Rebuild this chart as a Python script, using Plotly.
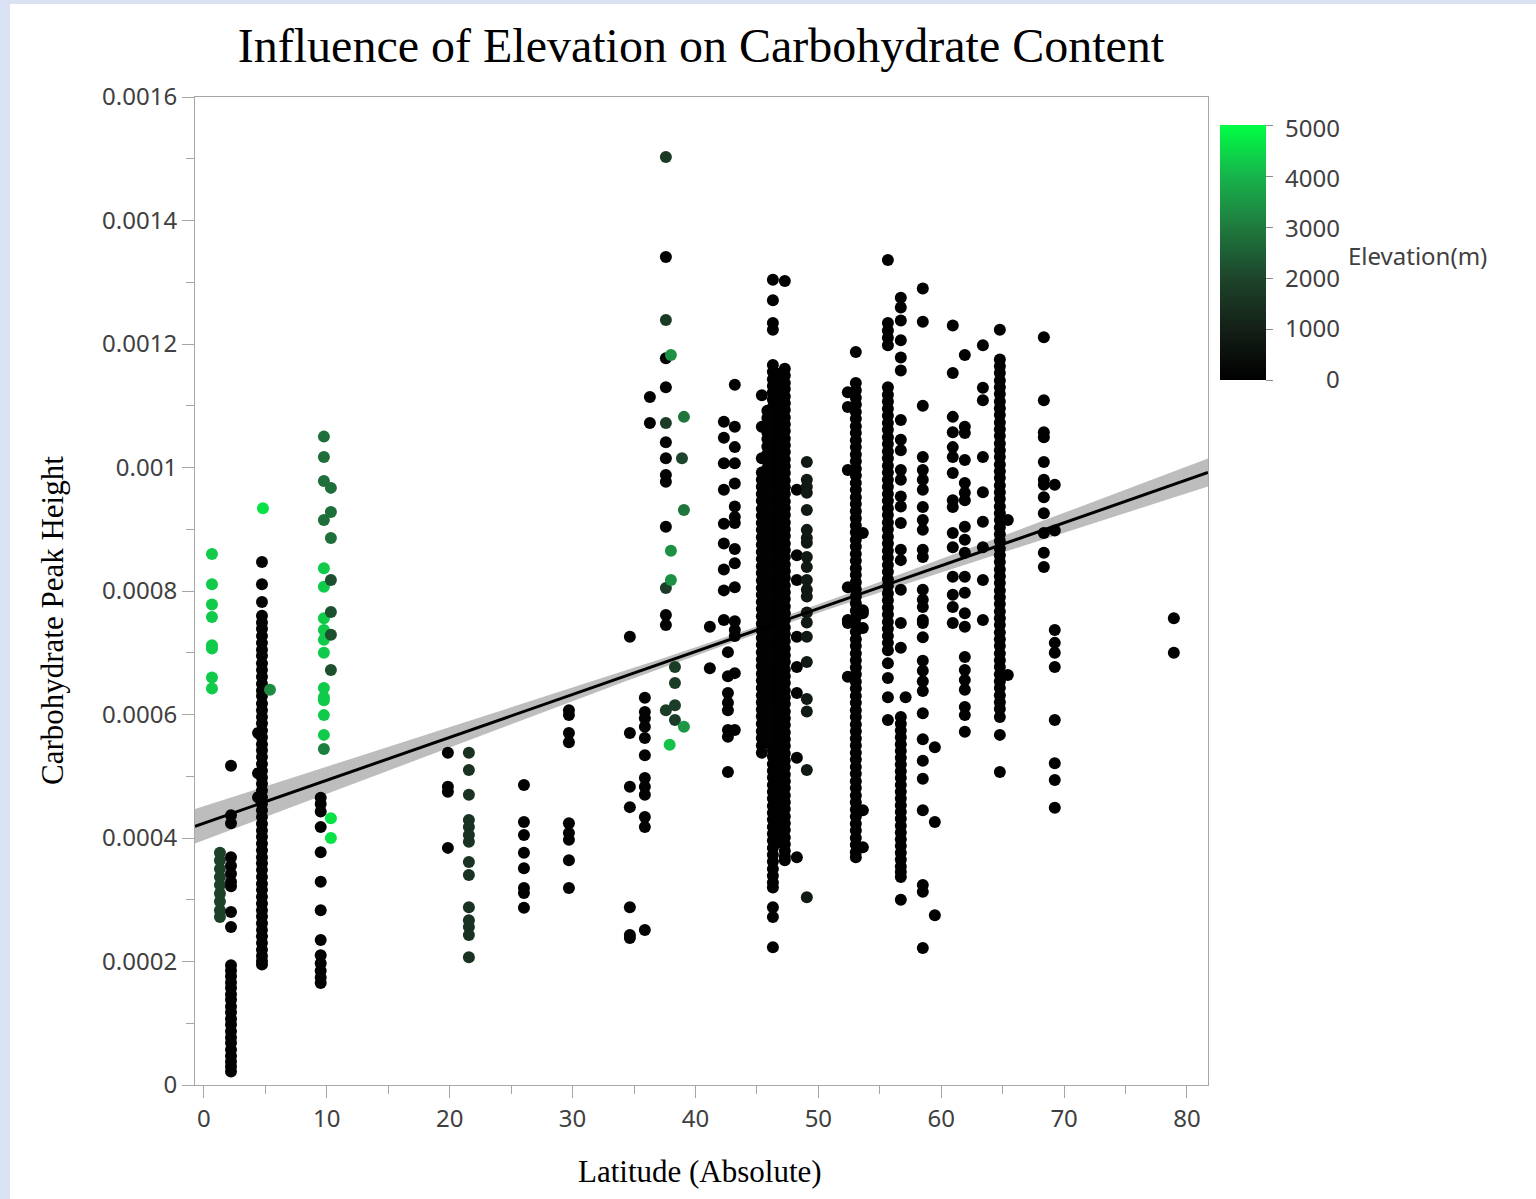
import plotly.graph_objects as go
import numpy as np

# ---------------- data (carbohydrate values in units of 1e-4) ----------------
group_lat = [
    0.65, 1.3, 2.2, 4.72, 4.4, 4.8, 5.37,
    9.76, 10.33, 9.76, 10.33, 9.76, 10.33, 9.5,
    19.85, 21.56, 26.04, 29.7, 34.66, 35.88,
    36.29, 37.59, 37.59, 37.59, 38.33, 37.59, 38.0, 39.06, 38.9, 39.06, 37.9,
    41.17, 42.31, 43.2, 42.64,
    45.4, 46.3, 47.27, 48.25, 49.06,
    53.05, 52.4, 53.62,
    55.66, 56.71, 57.1, 58.5, 59.48, 60.94, 61.92, 63.39,
    64.77, 65.42, 68.35, 69.24, 78.93,
    45.85, 46.8,
]
group_elev = [
    4300, 1900, 60, 90, 90, 4600, 3300,
    2800, 2800, 4300, 2200, 3100, 4600, 80,
    50, 1500, 50, 50, 50, 100,
    60, 1700, 80, 1800, 1800, 1800, 3400, 2900, 2000, 3500, 4200,
    50, 50, 50, 50,
    50, 40, 40, 60, 800,
    40, 40, 40,
    40, 40, 40, 40, 40, 40, 40, 40,
    40, 40, 40, 40, 40,
    50, 40,
]
group_carb = [
    [8.60, 8.11, 7.78, 7.58, 7.12, 7.07, 6.60, 6.42],
    [3.76, 3.64, 3.50, 3.37, 3.24, 3.10, 2.97, 2.83, 2.72],
    [5.17, 4.37, 4.24, 3.69, 3.55, 3.42, 3.29, 3.22, 2.80, 2.56, 1.94, 1.85, 1.76, 1.66,
     1.57, 1.47, 1.38, 1.27, 1.18, 1.07, 0.98, 0.87, 0.77, 0.68, 0.57, 0.47, 0.38, 0.30, 0.22],
    [8.47, 8.11, 7.82, 7.60, 7.49, 7.39, 7.27, 7.16, 7.05, 6.95, 6.83, 6.72, 6.61, 6.50,
     6.39, 6.30, 6.18, 6.07, 5.96, 5.86, 5.74, 5.63, 5.52, 5.42, 5.31, 5.20, 5.09, 4.98,
     4.88, 4.77, 4.66, 4.55, 4.45, 4.34, 4.23, 4.12, 4.02, 3.91, 3.80, 3.69, 3.59, 3.48,
     3.37, 3.26, 3.16, 3.05, 2.94, 2.83, 2.73, 2.62, 2.51, 2.41, 2.30, 2.19, 2.09, 2.01, 1.95],
    [5.70, 5.05, 4.66],
    [9.34],
    [6.40],
    [10.50, 10.17, 9.78, 9.15],
    [9.67, 9.28, 8.86],
    [8.37, 8.07, 7.56, 7.37, 7.21, 7.00, 6.43, 6.28, 6.23, 5.99, 5.67],
    [8.18, 7.66, 7.29, 6.72],
    [5.44],
    [4.32, 4.00],
    [4.65, 4.55, 4.43, 4.18, 3.77, 3.29, 2.83, 2.35, 2.10, 1.97, 1.85, 1.74, 1.65],
    [5.38, 4.83, 4.75, 3.84],
    [5.38, 5.10, 4.70, 4.29, 4.18, 4.05, 3.94, 3.61, 3.40, 2.88, 2.67, 2.56, 2.43, 2.07],
    [4.86, 4.26, 4.05, 3.76, 3.51, 3.19, 3.11, 2.87],
    [6.07, 5.99, 5.70, 5.55, 4.24, 4.08, 3.97, 3.64, 3.19],
    [7.26, 5.70, 4.83, 4.50, 2.88, 2.43, 2.38],
    [6.27, 6.04, 5.94, 5.80, 5.62, 5.34, 4.97, 4.83, 4.70, 4.34, 4.18, 2.51],
    [11.14, 10.72],
    [15.03, 12.39],
    [13.41, 11.77, 11.30, 10.41, 10.15, 9.88, 9.77, 9.04, 7.61, 7.45],
    [10.72, 8.05, 6.07],
    [6.77, 6.51, 6.15, 5.91],
    [],
    [11.82, 8.65, 8.18],
    [10.82, 9.31],
    [10.15],
    [5.80],
    [5.51],
    [7.42, 6.75],
    [10.74, 10.48, 10.07, 9.64, 9.09, 8.77, 8.35, 8.01, 7.53],
    [11.34, 10.66, 10.33, 10.07, 9.74, 9.37, 9.20, 9.10, 8.68, 8.45, 8.06, 7.51, 7.37, 7.27, 6.67, 5.75],
    [7.01, 6.62, 6.35, 6.19, 6.07, 5.75, 5.64, 5.07],
    [11.17, 10.66, 10.15, 9.92, 9.80, 9.69, 9.57, 9.46, 9.33, 9.22, 9.10, 8.99, 8.87, 8.75,
     8.63, 8.52, 8.40, 8.29, 8.17, 8.05, 7.94, 7.82, 7.71, 7.59, 7.47, 7.36, 7.24, 7.13,
     7.01, 6.89, 6.78, 6.66, 6.55, 6.43, 6.31, 6.20, 6.08, 5.97, 5.85, 5.73, 5.62, 5.50, 5.38],
    [13.04, 12.71, 12.34, 12.23, 11.66, 11.55, 11.43, 11.32, 11.22, 11.10, 10.98, 10.87,
     10.77, 10.64, 10.53, 10.42, 10.31, 10.19, 10.08, 9.96, 9.85, 9.74, 9.63, 9.51, 9.40,
     9.28, 9.17, 9.06, 8.94, 8.83, 8.72, 8.61, 8.49, 8.38, 8.26, 8.15, 8.04, 7.92, 7.81,
     7.70, 7.58, 7.47, 7.36, 7.25, 7.13, 7.02, 6.90, 6.79, 6.68, 6.56, 6.45, 6.34, 6.22,
     6.11, 6.00, 5.88, 5.77, 5.66, 5.54, 5.43, 5.32, 5.20, 5.09, 4.98, 4.86, 4.75, 4.64,
     4.52, 4.41, 4.30, 4.18, 4.07, 3.96, 3.84, 3.73, 3.62, 3.50, 3.39, 3.28, 3.20, 2.88, 2.72, 2.23],
    [13.02, 11.60, 11.49, 11.37, 11.27, 11.15, 11.04, 10.93, 10.81, 10.70, 10.59, 10.47,
     10.36, 10.25, 10.13, 10.02, 9.91, 9.79, 9.68, 9.57, 9.45, 9.34, 9.23, 9.11, 9.00,
     8.89, 8.77, 8.66, 8.55, 8.43, 8.32, 8.21, 8.09, 7.98, 7.87, 7.75, 7.64, 7.53, 7.41,
     7.30, 7.19, 7.07, 6.96, 6.85, 6.73, 6.62, 6.51, 6.39, 6.28, 6.17, 6.05, 5.94, 5.83,
     5.71, 5.60, 5.49, 5.37, 5.26, 5.15, 5.03, 4.92, 4.81, 4.69, 4.58, 4.47, 4.35, 4.24,
     4.13, 4.01, 3.90, 3.79, 3.70, 3.64],
    [9.64, 8.58, 8.18, 7.26, 6.77, 6.35, 5.30, 3.69],
    [10.09, 9.80, 9.69, 9.59, 9.31, 8.99, 8.86, 8.78, 8.55, 8.39, 8.18, 8.02, 7.91, 7.65,
     7.49, 7.26, 6.85, 6.25, 6.05, 5.10, 3.04],
    [11.87, 11.37, 11.25, 11.13, 11.02, 10.90, 10.79, 10.67, 10.56, 10.44, 10.33, 10.21,
     10.10, 9.98, 9.87, 9.75, 9.64, 9.52, 9.41, 9.29, 9.18, 9.06, 8.95, 8.83, 8.72, 8.60,
     8.49, 8.37, 8.26, 8.14, 8.03, 7.91, 7.80, 7.68, 7.57, 7.45, 7.34, 7.22, 7.11, 6.99,
     6.88, 6.76, 6.65, 6.53, 6.42, 6.30, 6.19, 6.07, 5.96, 5.84, 5.73, 5.61, 5.50, 5.38,
     5.27, 5.15, 5.04, 4.92, 4.81, 4.69, 4.58, 4.46, 4.35, 4.23, 4.12, 4.00, 3.89, 3.77, 3.69],
    [11.22, 10.98, 9.96, 8.06, 7.53, 7.48, 6.61],
    [8.94, 7.69, 7.40, 7.64, 4.45, 3.85],
    [13.36, 12.34, 12.22, 12.10, 11.98, 11.30, 11.18, 11.07, 10.95, 10.84, 10.72, 10.61,
     10.49, 10.38, 10.26, 10.15, 10.03, 9.92, 9.80, 9.69, 9.57, 9.46, 9.34, 9.23, 9.11,
     9.00, 8.88, 8.77, 8.65, 8.54, 8.42, 8.31, 8.19, 8.08, 7.96, 7.85, 7.73, 7.62, 7.50,
     7.39, 7.27, 7.16, 7.04, 6.83, 6.59, 6.28, 5.91],
    [12.75, 12.59, 12.38, 12.06, 11.78, 11.57, 10.77, 10.45, 10.28, 9.96, 9.80, 9.53, 9.37,
     9.10, 8.67, 8.50, 8.02, 7.48, 7.08, 5.96, 5.85, 5.74, 5.63, 5.52, 5.41, 5.30, 5.19,
     5.08, 4.97, 4.86, 4.75, 4.64, 4.53, 4.42, 4.31, 4.20, 4.09, 3.98, 3.87, 3.76, 3.65,
     3.54, 3.45, 3.37, 3.00],
    [6.28],
    [12.90, 12.36, 11.00, 10.17, 9.96, 9.80, 9.64, 9.36, 9.15, 8.99, 8.67, 8.55, 8.02, 7.86,
     7.74, 7.53, 7.48, 7.25, 6.87, 6.71, 6.54, 6.38, 6.02, 5.60, 5.25, 4.96, 4.45, 3.24, 3.13, 2.22],
    [5.47, 4.26, 2.75],
    [12.30, 11.53, 10.82, 10.57, 10.33, 10.17, 9.91, 9.47, 9.36, 8.94, 8.71, 8.23, 7.94, 7.74, 7.48],
    [11.82, 10.66, 10.56, 10.12, 9.75, 9.59, 9.47, 9.04, 8.83, 8.62, 8.23, 7.97, 7.64, 7.42,
     6.93, 6.72, 6.56, 6.40, 6.12, 5.99, 5.72],
    [11.98, 11.29, 11.09, 10.17, 9.60, 9.12, 8.71, 8.18, 7.53],
    [12.23, 11.75, 11.64, 11.53, 11.41, 11.30, 11.19, 11.07, 10.96, 10.85, 10.73, 10.62,
     10.51, 10.39, 10.28, 10.17, 10.05, 9.94, 9.83, 9.71, 9.60, 9.49, 9.37, 9.26, 9.15,
     9.03, 8.92, 8.81, 8.69, 8.58, 8.47, 8.35, 8.24, 8.13, 8.01, 7.90, 7.79, 7.67, 7.56,
     7.45, 7.33, 7.22, 7.11, 6.99, 6.88, 6.77, 6.65, 6.54, 6.43, 6.31, 6.20, 6.09, 5.96, 5.67, 5.07],
    [9.15, 6.64],
    [12.11, 11.09, 10.57, 10.49, 10.09, 9.80, 9.72, 9.52, 9.26, 8.94, 8.62, 8.39],
    [9.72, 8.98, 7.37, 7.16, 7.00, 6.77, 5.91, 5.21, 4.94, 4.49],
    [7.56, 7.00],
    [10.92, 10.80, 10.69, 10.57, 10.46, 10.34, 10.22, 10.11, 9.99, 9.87, 9.75, 9.64, 9.52,
     9.40, 9.29, 9.17, 9.05, 8.94, 8.82, 8.70, 8.59, 8.47, 8.35, 8.24, 8.12, 8.00, 7.89,
     7.77, 7.65, 7.54, 7.42, 7.30, 7.19, 7.07, 6.95, 6.84, 6.72, 6.60, 6.49, 6.37, 6.25,
     6.14, 6.02, 5.90, 5.79, 5.67, 5.55],
    [11.52, 11.41, 11.29, 11.18, 11.06, 10.95, 10.83, 10.72, 10.60, 10.49, 10.37, 10.26,
     10.14, 10.03, 9.91, 9.80, 9.68, 9.57, 9.45, 9.34, 9.22, 9.11, 8.99, 8.88, 8.76, 8.65,
     8.53, 8.42, 8.30, 8.19, 8.07, 7.96, 7.84, 7.73, 7.61, 7.50, 7.38, 7.27, 7.15, 7.04,
     6.92, 6.81, 6.69, 6.58, 6.46, 6.35, 6.23, 6.12, 6.00, 5.89, 5.77, 5.66, 5.54, 5.43,
     5.31, 5.20, 5.08, 4.97, 4.85, 4.74, 4.62, 4.51, 4.39, 4.28, 4.16, 4.05, 3.93],
]

# linear fit shown in the chart (intercept, slope) and its confidence band
fit_intercept = 4.24e-4
fit_slope = 6.95e-6
band_center_lat = 45.0
band_min_half = 0.06e-4
band_growth = 5.95e-7

x_ticks = [0, 10, 20, 30, 40, 50, 60, 70, 80]
y_ticks = [0, 0.0002, 0.0004, 0.0006, 0.0008, 0.001, 0.0012, 0.0014, 0.0016]
y_tick_text = ["0", "0.0002", "0.0004", "0.0006", "0.0008", "0.001", "0.0012", "0.0014", "0.0016"]
cbar_ticks = [0, 1000, 2000, 3000, 4000, 5000]

# ---------------- build ----------------
lat, carb, elev = [], [], []
for la, el, vals in zip(group_lat, group_elev, group_carb):
    for v in vals:
        lat.append(la)
        carb.append(v * 1e-4)
        elev.append(el)

W, H = 1536, 1199
L, R, T, B = 195, 1208, 97, 1085
X_RANGE = [-0.73, 81.71]
Y_RANGE = [0, 0.0016]


def px_x(p):
    return (p - L) / (R - L)


def px_y(p):
    return (B - p) / (B - T)


colorscale = [[0.0, "#000000"], [0.2, "#141f17"], [0.4, "#1d452b"],
              [0.6, "#1f7a3e"], [0.8, "#17b44b"], [1.0, "#00ff44"]]

grid = np.linspace(X_RANGE[0], X_RANGE[1], 60)
fit = fit_intercept + fit_slope * grid
half = np.sqrt(band_min_half ** 2 + (band_growth * (grid - band_center_lat)) ** 2)

fig = go.Figure()
fig.add_trace(go.Scatter(x=grid, y=fit - half, mode="lines", line=dict(width=0, color="#bdbdbd"),
                         hoverinfo="skip", showlegend=False))
fig.add_trace(go.Scatter(x=grid, y=fit + half, mode="lines", line=dict(width=0, color="#bdbdbd"),
                         fill="tonexty", fillcolor="#bdbdbd", hoverinfo="skip", showlegend=False))
fig.add_trace(go.Scatter(
    x=lat, y=carb, mode="markers", showlegend=False,
    marker=dict(size=12, color=elev, cmin=0, cmax=5000, colorscale=colorscale,
                line=dict(width=0), opacity=1,
                colorbar=dict(x=px_x(1220), xanchor="left", xpad=0,
                              y=px_y(125), yanchor="top", ypad=0,
                              len=255, lenmode="pixels", thickness=46, thicknessmode="pixels",
                              outlinewidth=0, ticks="outside", ticklen=7, tickcolor="#8c8c8c",
                              tickvals=cbar_ticks, showticklabels=False),
                showscale=True),
))
fig.add_trace(go.Scatter(x=[grid[0], grid[-1]], y=[fit[0], fit[-1]], mode="lines",
                         line=dict(color="#000000", width=3), hoverinfo="skip", showlegend=False))

tick_font = dict(family="Noto Sans", size=24, color="#404040")
axis_common = dict(showline=True, linecolor="#a6a6a6", linewidth=1, mirror=True,
                   ticks="outside", tickcolor="#a6a6a6", ticklen=12, tickwidth=1,
                   showgrid=False, zeroline=False, tickfont=tick_font)

fig.update_xaxes(range=X_RANGE, tickvals=x_ticks,
                 minor=dict(ticks="outside", ticklen=8, tickcolor="#a6a6a6", dtick=5, tick0=0),
                 **axis_common)
fig.update_yaxes(range=Y_RANGE, tickvals=y_ticks, ticktext=y_tick_text,
                 minor=dict(ticks="outside", ticklen=8, tickcolor="#a6a6a6", dtick=0.0001, tick0=0),
                 **axis_common)

annotations = [
    dict(text="Latitude (Absolute)", x=px_x(700), y=px_y(1171), xref="paper", yref="paper",
         xanchor="center", yanchor="middle", showarrow=False,
         font=dict(family="Liberation Serif", size=31, color="#000000")),
    dict(text="Carbohydrate Peak Height", x=px_x(52), y=px_y(621), xref="paper", yref="paper",
         xanchor="center", yanchor="middle", textangle=-90, showarrow=False,
         font=dict(family="Liberation Serif", size=31, color="#000000")),
    dict(text="Elevation(m)", x=px_x(1346), y=px_y(255), xref="paper", yref="paper",
         xanchor="left", yanchor="middle", showarrow=False,
         font=dict(family="Noto Sans", size=24, color="#404040")),
]
for v in cbar_ticks:
    py = 378 - v / 5000 * 251
    annotations.append(dict(text=str(v), x=px_x(1342), y=px_y(py), xref="paper", yref="paper",
                            xanchor="right", yanchor="middle", showarrow=False, font=tick_font))

shapes = [
    dict(type="rect", xref="paper", yref="paper", x0=px_x(0), x1=px_x(10), y0=px_y(H), y1=px_y(0),
         fillcolor="#d9e1f2", line=dict(width=0), layer="below"),
    dict(type="rect", xref="paper", yref="paper", x0=px_x(0), x1=px_x(W), y0=px_y(4), y1=px_y(0),
         fillcolor="#d9e1f2", line=dict(width=0), layer="below"),
]

fig.update_layout(
    width=W, height=H, autosize=False,
    margin=dict(l=L, r=W - R, t=T, b=H - B, pad=0),
    paper_bgcolor="#ffffff", plot_bgcolor="#ffffff",
    title=dict(text="Influence of Elevation on Carbohydrate Content", x=701 / W, xref="container",
               xanchor="center", y=1 - 45 / H, yref="container", yanchor="middle",
               font=dict(family="Liberation Serif", size=48, color="#000000")),
    annotations=annotations, shapes=shapes,
)

fig.write_html("out.html", post_script="document.body.style.margin='0';")
